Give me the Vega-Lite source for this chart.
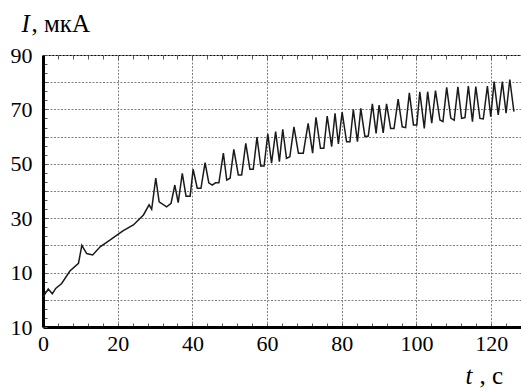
{
  "$schema": "https://vega.github.io/schema/vega-lite/v6.json",
  "width": 478,
  "height": 272,
  "autosize": {"type": "none"},
  "padding": {"left": 43, "top": 55, "right": 0, "bottom": 61},
  "background": "white",
  "config": {"view": {"stroke": "black", "strokeWidth": 1}, "font": "Liberation Serif"},
  "data": {"values": [
    {"t": 0, "I": 1}, {"t": 1.4, "I": 4}, {"t": 2.5, "I": 2.2}, {"t": 3.4, "I": 4.2}, {"t": 5, "I": 6},
    {"t": 7.2, "I": 10.6}, {"t": 9.5, "I": 13.4}, {"t": 10.4, "I": 20}, {"t": 11.7, "I": 17}, {"t": 13.3, "I": 16.5},
    {"t": 15.3, "I": 19.5}, {"t": 18, "I": 22}, {"t": 21.5, "I": 25.4}, {"t": 24.2, "I": 27.5}, {"t": 26.9, "I": 31.2},
    {"t": 28.4, "I": 34.9}, {"t": 29.1, "I": 33.3}, {"t": 30.2, "I": 44.7}, {"t": 31.1, "I": 36}, {"t": 33.1, "I": 34.2},
    {"t": 34.3, "I": 35.5}, {"t": 35.3, "I": 42.2}, {"t": 36.2, "I": 35.7}, {"t": 37.3, "I": 46.5}, {"t": 38.3, "I": 38.1},
    {"t": 39.4, "I": 38.1}, {"t": 40.2, "I": 48}, {"t": 41.3, "I": 41}, {"t": 42.3, "I": 41}, {"t": 43.4, "I": 50.4},
    {"t": 44.4, "I": 43}, {"t": 45.3, "I": 42.2}, {"t": 46.2, "I": 43}, {"t": 47.1, "I": 43}, {"t": 48.3, "I": 53.9},
    {"t": 49.2, "I": 44}, {"t": 50.1, "I": 44.7}, {"t": 51.1, "I": 55.3}, {"t": 52.3, "I": 45.9}, {"t": 53.2, "I": 45.9},
    {"t": 54.3, "I": 57.5}, {"t": 55.4, "I": 48}, {"t": 56.3, "I": 48}, {"t": 57.3, "I": 59.8}, {"t": 58.3, "I": 49.2},
    {"t": 59.2, "I": 49.2}, {"t": 60.2, "I": 61}, {"t": 61.2, "I": 50.2}, {"t": 62.3, "I": 61.8}, {"t": 63.3, "I": 50.8},
    {"t": 64.2, "I": 62.7}, {"t": 65.2, "I": 52}, {"t": 66.1, "I": 52.6}, {"t": 67.2, "I": 63.6}, {"t": 68.4, "I": 53.9},
    {"t": 69.7, "I": 53.9}, {"t": 71, "I": 64.9}, {"t": 72.2, "I": 53.9}, {"t": 73.1, "I": 67.1}, {"t": 74.3, "I": 55.7},
    {"t": 75.2, "I": 55.7}, {"t": 76.1, "I": 67.5}, {"t": 77.3, "I": 56.3}, {"t": 78.2, "I": 68.6}, {"t": 79.1, "I": 57.3},
    {"t": 80.1, "I": 69}, {"t": 81.3, "I": 58.1}, {"t": 82.2, "I": 58.1}, {"t": 83.1, "I": 70}, {"t": 84.2, "I": 58.1},
    {"t": 85.1, "I": 70.4}, {"t": 86.2, "I": 60}, {"t": 87.1, "I": 60.2}, {"t": 88.2, "I": 72}, {"t": 89.2, "I": 61.2},
    {"t": 90, "I": 71.6}, {"t": 91.1, "I": 61.4}, {"t": 92, "I": 72}, {"t": 93.1, "I": 63}, {"t": 94, "I": 63},
    {"t": 95.1, "I": 73.8}, {"t": 96.2, "I": 63.6}, {"t": 97.1, "I": 63.3}, {"t": 98.1, "I": 76.1}, {"t": 99.2, "I": 64.3},
    {"t": 100.1, "I": 64.3}, {"t": 100.9, "I": 76.5}, {"t": 102.1, "I": 63}, {"t": 103, "I": 76.5}, {"t": 104.1, "I": 64.9},
    {"t": 105.1, "I": 76.9}, {"t": 106.3, "I": 66.1}, {"t": 107.1, "I": 65.5}, {"t": 108.1, "I": 78.1}, {"t": 109.2, "I": 66.8},
    {"t": 110.1, "I": 66}, {"t": 111.1, "I": 78.3}, {"t": 112.1, "I": 66.7}, {"t": 113, "I": 67}, {"t": 113.9, "I": 78.6},
    {"t": 115, "I": 65.5}, {"t": 115.9, "I": 78.4}, {"t": 117, "I": 66.7}, {"t": 117.9, "I": 66.5}, {"t": 119, "I": 78.6},
    {"t": 119.9, "I": 67.3}, {"t": 120.8, "I": 80.2}, {"t": 121.9, "I": 68}, {"t": 123, "I": 80.2}, {"t": 124, "I": 68.6},
    {"t": 125, "I": 81}, {"t": 126.1, "I": 69.2}
  ]},
  "layer": [
    {
      "mark": {"type": "line", "color": "#1a1a1a", "strokeWidth": 1.5},
      "encoding": {
        "x": {
          "field": "t", "type": "quantitative",
          "scale": {"domain": [0, 128], "nice": false, "zero": false},
          "axis": {
            "orient": "bottom",
            "values": [0, 4, 8, 12, 16, 20, 24, 28, 32, 36, 40, 44, 48, 52, 56, 60, 64, 68, 72, 76, 80, 84, 88, 92, 96, 100, 104, 108, 112, 116, 120, 124],
            "grid": true,
            "gridColor": "#808080",
            "gridDash": [2, 1.5],
            "gridWidth": 1,
            "gridOpacity": {"condition": {"test": "datum.value % 20 === 0", "value": 1}, "value": 0},
            "ticks": true,
            "tickSize": -4,
            "tickColor": "#555",
            "tickWidth": 1,
            "domain": true,
            "domainColor": "black",
            "domainWidth": 3,
            "labelExpr": "datum.value % 20 === 0 ? datum.label : ''",
            "labelFlush": false,
            "labelOverlap": false,
            "labelBound": false,
            "labelFont": "Liberation Serif",
            "labelFontSize": 22,
            "labelColor": "black",
            "labelPadding": 10,
            "title": "t",
            "titleFont": "Liberation Serif",
            "titleFontSize": 25,
            "titleFontStyle": "italic",
            "titleFontWeight": "normal",
            "titleColor": "black",
            "titleAngle": 0,
            "titleAlign": "left",
            "titleBaseline": "alphabetic",
            "titleX": 422,
            "titleY": 56
          }
        },
        "y": {
          "field": "I", "type": "quantitative",
          "scale": {"domain": [-10, 90], "nice": false, "zero": false},
          "axis": {
            "orient": "left",
            "values": [-10, -6.6667, -3.3333, 0, 3.3333, 6.6667, 10, 13.3333, 16.6667, 20, 23.3333, 26.6667, 30, 33.3333, 36.6667, 40, 43.3333, 46.6667, 50, 53.3333, 56.6667, 60, 63.3333, 66.6667, 70, 73.3333, 76.6667, 80, 83.3333, 86.6667, 90],
            "grid": true,
            "gridColor": "#808080",
            "gridDash": [2, 1.5],
            "gridWidth": 1,
            "gridOpacity": {"condition": {"test": "abs(datum.value - round(datum.value / 10) * 10) < 0.01", "value": 1}, "value": 0},
            "ticks": true,
            "tickSize": -4,
            "tickColor": "#555",
            "tickWidth": 1,
            "domain": true,
            "domainColor": "black",
            "domainWidth": 3,
            "labelExpr": "abs(datum.value - round(datum.value / 10) * 10) < 0.01 && abs(round(datum.value / 10)) % 2 == 1 ? '' + abs(round(datum.value)) : ''",
            "labelFlush": false,
            "labelOverlap": false,
            "labelBound": false,
            "labelBaseline": "middle",
            "labelFont": "Liberation Serif",
            "labelFontSize": 22,
            "labelColor": "black",
            "labelPadding": 15,
            "title": "I",
            "titleFont": "Liberation Serif",
            "titleFontSize": 25,
            "titleFontStyle": "italic",
            "titleFontWeight": "normal",
            "titleColor": "black",
            "titleAngle": 0,
            "titleAlign": "left",
            "titleBaseline": "alphabetic",
            "titleX": -22,
            "titleY": -24
          }
        }
      }
    },
    {
      "mark": {"type": "line", "strokeOpacity": 0},
      "encoding": {
        "x": {
          "field": "t", "type": "quantitative",
          "axis": {
            "orient": "top",
            "values": [4, 8, 12, 16, 20, 24, 28, 32, 36, 40, 44, 48, 52, 56, 60, 64, 68, 72, 76, 80, 84, 88, 92, 96, 100, 104, 108, 112, 116, 120, 124],
            "grid": false,
            "domain": false,
            "labels": false,
            "ticks": true,
            "tickSize": -4,
            "tickColor": "#555",
            "tickWidth": 1,
            "title": ", мкА",
            "titleFont": "Liberation Serif",
            "titleFontSize": 25,
            "titleFontWeight": "normal",
            "titleColor": "black",
            "titleAngle": 0,
            "titleAlign": "left",
            "titleBaseline": "alphabetic",
            "titleX": -12,
            "titleY": -24
          }
        },
        "y": {
          "field": "I", "type": "quantitative",
          "axis": {
            "orient": "right",
            "grid": false,
            "domain": false,
            "labels": false,
            "ticks": false,
            "title": ", с",
            "titleFont": "Liberation Serif",
            "titleFontSize": 25,
            "titleFontWeight": "normal",
            "titleColor": "black",
            "titleAngle": 0,
            "titleAlign": "left",
            "titleBaseline": "alphabetic",
            "titleX": -42,
            "titleY": 328
          }
        }
      }
    }
  ],
  "resolve": {"axis": {"x": "independent", "y": "independent"}}
}
